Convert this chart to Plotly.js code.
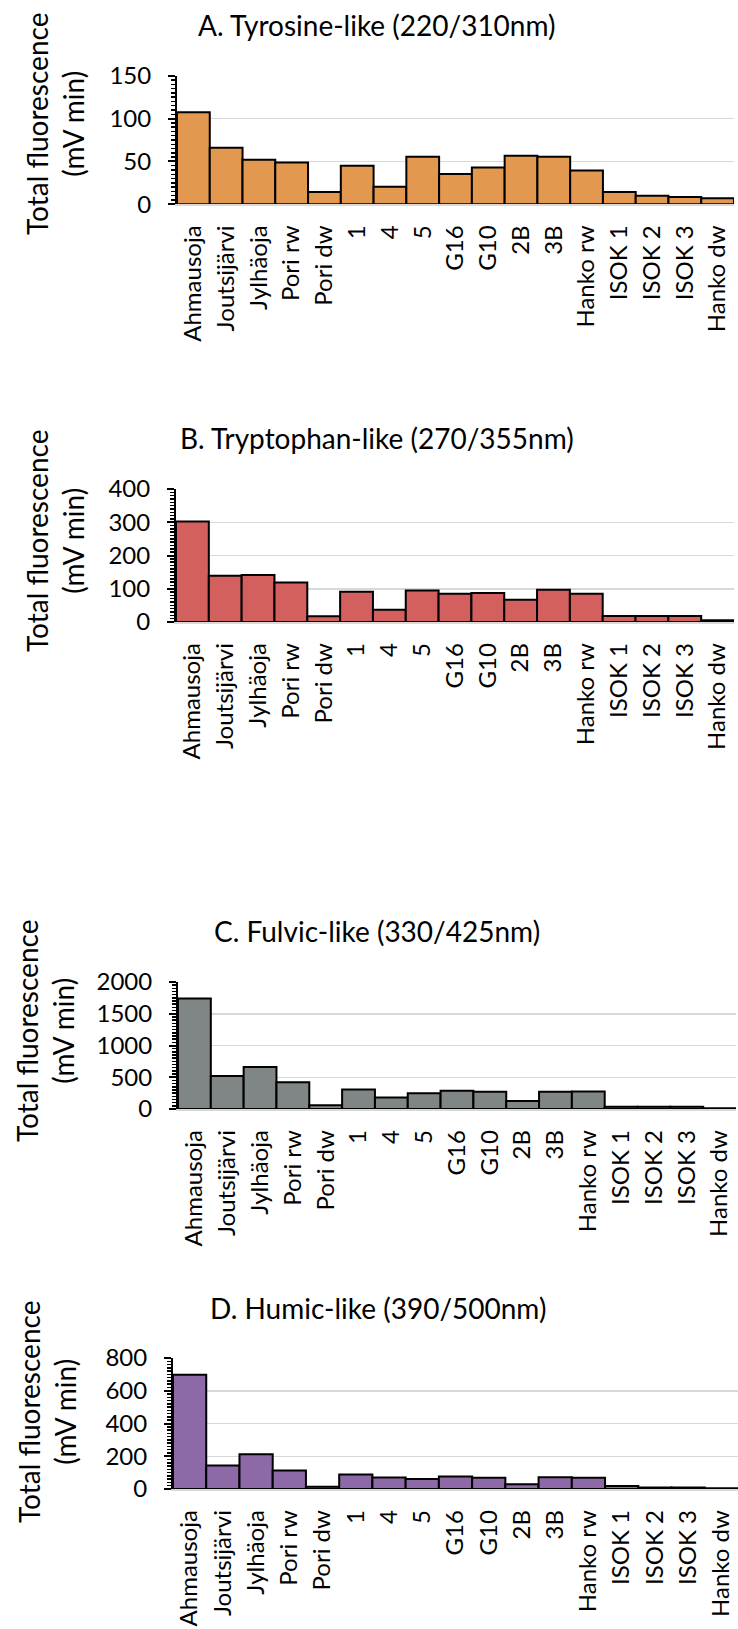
<!DOCTYPE html>
<html>
<head>
<meta charset="utf-8">
<script src="https://cdn.plot.ly/plotly-3.0.1.min.js"></script>
<style>
html, body { margin: 0; padding: 0; background: #ffffff; }
#chart { width: 738px; height: 1629px; }
</style>
</head>
<body>
<div id="chart"></div>
<script>
// ---- data ----
const categories = ["Ahmausoja", "Joutsijärvi", "Jylhäoja", "Pori rw", "Pori dw", "1", "4", "5",
  "G16", "G10", "2B", "3B", "Hanko rw", "ISOK 1", "ISOK 2", "ISOK 3", "Hanko dw"];
const tyrosine   = [107.5, 66, 52, 48.7, 14.4, 45, 20.4, 55.5, 35.4, 42.9, 56.7, 55.5, 39.3, 14.4, 10, 8.6, 7.2];
const tryptophan = [302, 139, 141, 119, 17, 91, 37, 95, 85, 87, 67, 97, 85, 18, 18, 18, 5];
const fulvic     = [1740, 518, 663, 422, 60, 307, 181, 247, 289, 271, 127, 271, 277, 36, 36, 36, 12];
const humic      = [698, 144, 212, 113, 14, 88, 70, 61, 77, 68, 29, 72, 68, 18, 9, 9, 4];
const panelTitles = ["A. Tyrosine-like (220/310nm)", "B. Tryptophan-like (270/355nm)",
  "C. Fulvic-like (330/425nm)", "D. Humic-like (390/500nm)"];
const yTitle = "Total fluorescence<br>(mV min)";
const yMax = [150, 400, 2000, 800];
const yStep = [50, 100, 500, 200];

// ---- styling / layout ----
const W = 738, H = 1629;
const FONT = "Lato, 'Open Sans', sans-serif";
const colors = ["#E2994F", "#D45F5F", "#7F8685", "#8E69A8"];
const series = [tyrosine, tryptophan, fulvic, humic];
// plot boxes in pixels: [left, right, top(ymax), bottom(0)]
const boxes = [
  [177, 734, 75.7, 204.3],
  [176, 734, 489, 622],
  [178, 736, 982, 1109],
  [173, 738, 1358, 1489]
];
const titlePos = [[377, 25], [377, 438], [377, 931], [378, 1308]];
const yTitlePos = [[55, 124], [55, 541], [45, 1031], [47, 1412]];

const data = [];
const layout = {
  width: W, height: H,
  margin: {l: 0, r: 0, t: 0, b: 0},
  paper_bgcolor: "#ffffff",
  plot_bgcolor: "#ffffff",
  showlegend: false,
  bargap: 0,
  font: {family: FONT, color: "#000000", size: 24},
  annotations: []
};

for (let i = 0; i < 4; i++) {
  const sfx = i === 0 ? "" : String(i + 1);
  const b = boxes[i];
  data.push({
    type: "bar",
    x: categories,
    y: series[i],
    xaxis: "x" + sfx,
    yaxis: "y" + sfx,
    marker: {color: colors[i], line: {color: "#000000", width: 2}},
    hoverinfo: "x+y"
  });
  layout["xaxis" + sfx] = {
    domain: [b[0] / W, Math.min(1, b[1] / W)],
    anchor: "y" + sfx,
    type: "category",
    range: [-0.5, categories.length - 0.5],
    showgrid: false,
    zeroline: false,
    showline: true,
    linecolor: "#D9D9D9",
    linewidth: 1.5,
    ticks: "",
    tickangle: -90,
    ticklabelstandoff: 10,
    tickfont: {family: FONT, size: 24, color: "#000000"},
    fixedrange: true
  };
  layout["yaxis" + sfx] = {
    domain: [1 - b[3] / H, 1 - b[2] / H],
    anchor: "x" + sfx,
    range: [0, yMax[i]],
    dtick: yStep[i],
    tick0: 0,
    showgrid: true,
    gridcolor: "#D9D9D9",
    gridwidth: 1.5,
    zeroline: false,
    showline: true,
    linecolor: "#000000",
    linewidth: 2,
    ticks: "outside",
    ticklen: 7,
    tickwidth: 2,
    tickcolor: "#000000",
    ticklabelstandoff: 12,
    minor: {dtick: yStep[i] / 10, ticks: "outside", ticklen: 4, tickwidth: 1.5, tickcolor: "#000000", showgrid: false},
    tickfont: {family: FONT, size: 24, color: "#000000"},
    fixedrange: true
  };
  layout.annotations.push({
    text: panelTitles[i],
    xref: "paper", yref: "paper",
    x: titlePos[i][0] / W, y: 1 - titlePos[i][1] / H,
    xanchor: "center", yanchor: "middle",
    showarrow: false,
    font: {family: FONT, size: 28, color: "#000000"}
  });
  layout.annotations.push({
    text: yTitle,
    xref: "paper", yref: "paper",
    x: yTitlePos[i][0] / W, y: 1 - yTitlePos[i][1] / H,
    xanchor: "center", yanchor: "middle",
    textangle: -90,
    showarrow: false,
    font: {family: FONT, size: 28, color: "#000000"}
  });
}

Plotly.newPlot("chart", data, layout, {displayModeBar: false, staticPlot: true});
</script>
</body>
</html>
